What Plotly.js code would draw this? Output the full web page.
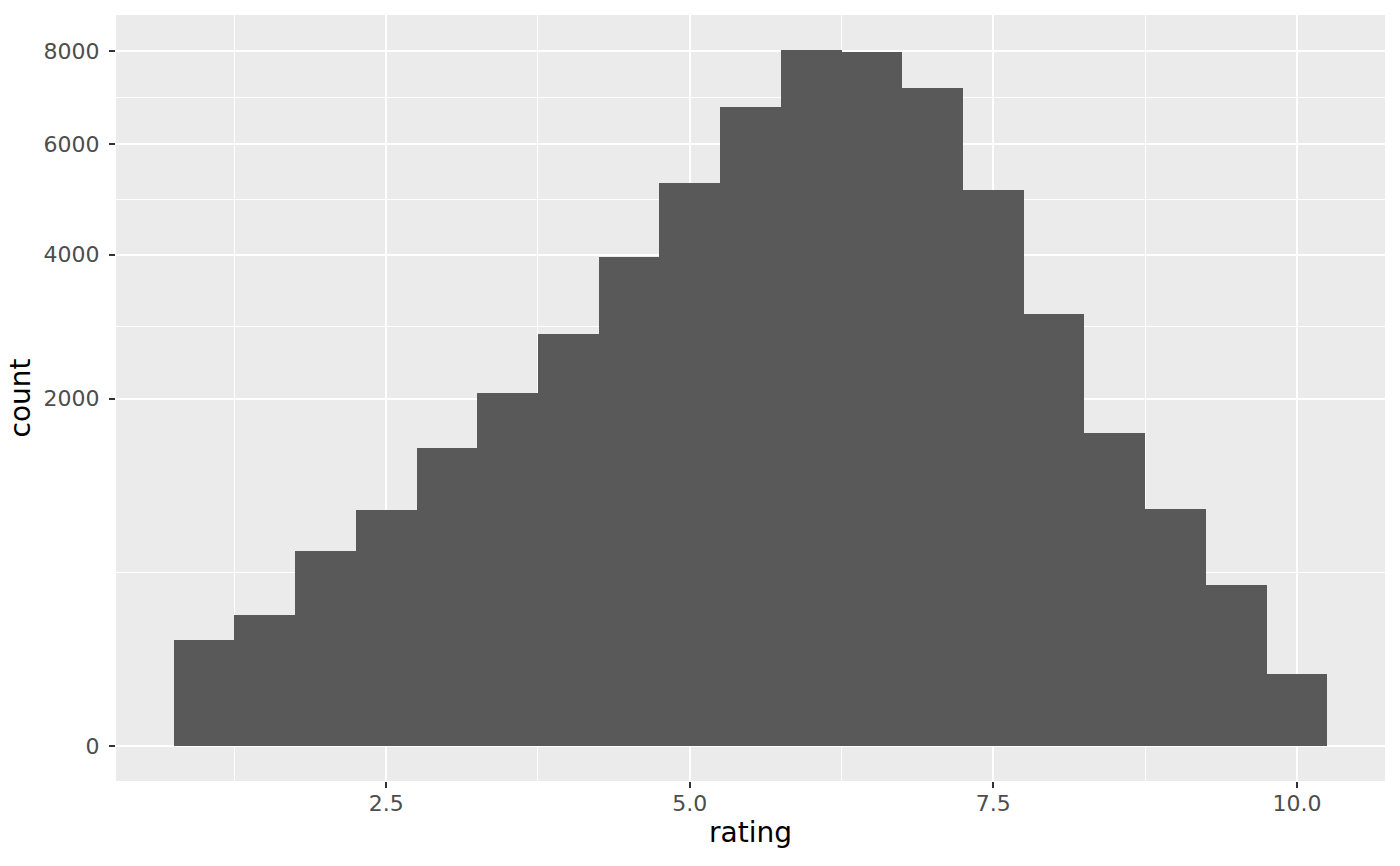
<!DOCTYPE html>
<html>
<head>
<meta charset="utf-8">
<script src="https://cdn.plot.ly/plotly-3.0.1.min.js"></script>
<style>html,body{margin:0;padding:0;background:#fff;}#chart{width:1400px;height:866px;}</style>
</head>
<body>
<div id="chart"></div>
<script>
// Histogram bins (rating centers, binwidth 0.5) and counts
const binCenters = [1.0,1.5,2.0,2.5,3.0,3.5,4.0,4.5,5.0,5.5,6.0,6.5,7.0,7.5,8.0,8.5,9.0,9.5,10.0];
const counts = [186,284,628,920,1477,2070,2818,3967,5255,6767,8030,7990,7175,5126,3097,1629,928,428,86];
const binWidth = 0.5;
const yBreaks = [0,2000,4000,6000,8000];
const yBreakLabels = ['0','2000','4000','6000','8000'];
const xBreaks = [2.5,5.0,7.5,10.0];
const xBreakLabels = ['2.5','5.0','7.5','10.0'];
const xMinor = [1.25,3.75,6.25,8.75];

// sqrt scale (ggplot scale_y_sqrt)
const sq = v => Math.sqrt(v);
const ySq = counts.map(sq);
const yTickVals = yBreaks.map(sq);
const yMinor = [];
for (let i = 0; i < yTickVals.length - 1; i++) yMinor.push((yTickVals[i] + yTickVals[i+1]) / 2);

const xLo = binCenters[0] - binWidth/2, xHi = binCenters[binCenters.length-1] + binWidth/2;
const xPad = (xHi - xLo) * 0.05;
const yMax = Math.max(...ySq);
const yPad = yMax * 0.05;

const trace = {
  type: 'bar',
  x: binCenters,
  y: ySq,
  width: binWidth,
  marker: {color: '#595959', line: {width: 0}},
  customdata: counts,
  hovertemplate: 'rating %{x}<br>count %{customdata}<extra></extra>'
};

const tickFont = {family: 'DejaVu Sans, sans-serif', size: 22, color: '#4D4D4D'};
const titleFont = {family: 'DejaVu Sans, sans-serif', size: 28, color: '#000000'};
const layout = {
  width: 1400, height: 866,
  margin: {l: 116, r: 15, t: 15, b: 85},
  paper_bgcolor: '#ffffff',
  plot_bgcolor: '#EBEBEB',
  bargap: 0,
  showlegend: false,
  font: {family: 'DejaVu Sans, sans-serif'},
  xaxis: {
    range: [xLo - xPad, xHi + xPad],
    tickmode: 'array', tickvals: xBreaks, ticktext: xBreakLabels,
    ticks: 'outside', ticklen: 6, tickwidth: 2, tickcolor: '#333333',
    tickfont: tickFont, ticklabelstandoff: -3,
    showgrid: true, gridcolor: '#FFFFFF', gridwidth: 2,
    minor: {tickmode: 'array', tickvals: xMinor, showgrid: true, gridcolor: '#FFFFFF', gridwidth: 1, ticks: ''},
    zeroline: false, showline: false,
    title: {text: 'rating', font: titleFont, standoff: 6}
  },
  yaxis: {
    range: [-yPad, yMax + yPad],
    tickmode: 'array', tickvals: yTickVals, ticktext: yBreakLabels,
    ticks: 'outside', ticklen: 6, tickwidth: 2, tickcolor: '#333333',
    tickfont: tickFont, ticklabelstandoff: 5,
    showgrid: true, gridcolor: '#FFFFFF', gridwidth: 2,
    minor: {tickmode: 'array', tickvals: yMinor, showgrid: true, gridcolor: '#FFFFFF', gridwidth: 1, ticks: ''},
    zeroline: false, showline: false,
    title: {text: 'count', font: titleFont, standoff: 4}
  }
};

Plotly.newPlot('chart', [trace], layout, {displayModeBar: false, staticPlot: true});
</script>
</body>
</html>
